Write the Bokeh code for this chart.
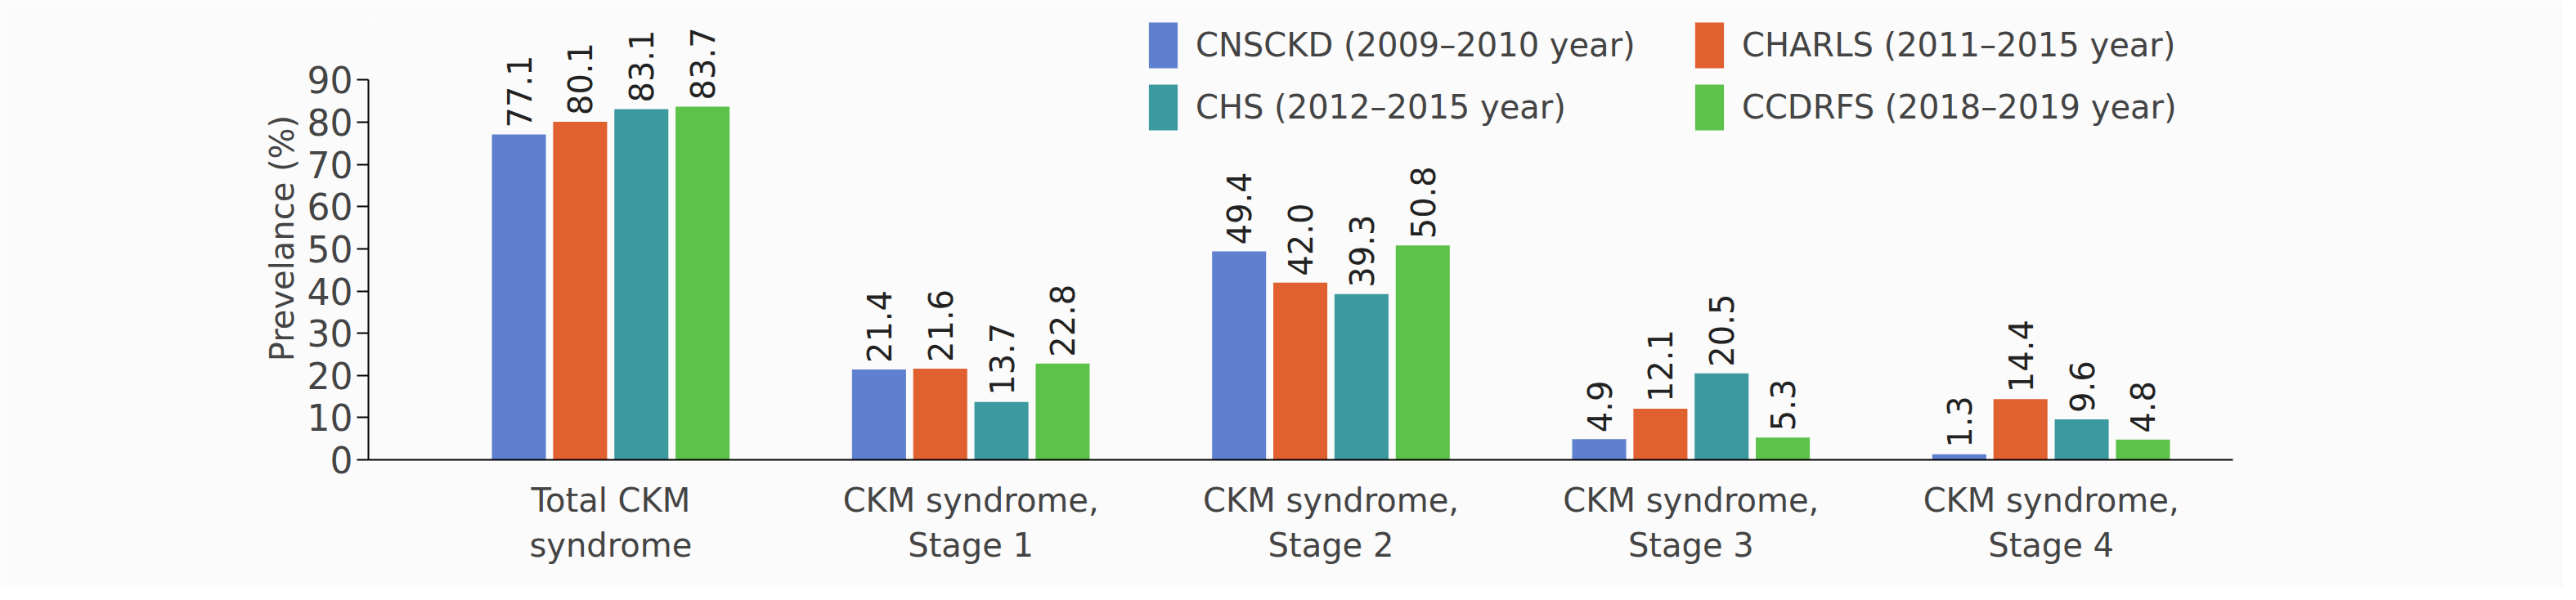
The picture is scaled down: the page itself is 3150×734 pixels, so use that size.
import numpy as np
from bokeh.plotting import figure
from bokeh.models import ColumnDataSource, FixedTicker, Legend, LegendItem
from bokeh.core.properties import value
from bokeh.embed import file_html
from bokeh.resources import INLINE

categories = ["Total CKM\nsyndrome", "CKM syndrome,\nStage 1", "CKM syndrome,\nStage 2",
              "CKM syndrome,\nStage 3", "CKM syndrome,\nStage 4"]
series = ["CNSCKD (2009\u20132010 year)", "CHARLS (2011\u20132015 year)",
          "CHS (2012\u20132015 year)", "CCDRFS (2018\u20132019 year)"]
cnsckd = [77.1, 21.4, 49.4, 4.9, 1.3]
charls = [80.1, 21.6, 42.0, 12.1, 14.4]
chs = [83.1, 13.7, 39.3, 20.5, 9.6]
ccdrfs = [83.7, 22.8, 50.8, 5.3, 4.8]
colors = ["#5f7fcf", "#e0612f", "#3c999f", "#5cc24a"]
yticks = [0, 10, 20, 30, 40, 50, 60, 70, 80, 90]

FONT = "DejaVu Sans"
p = figure(width=3134, height=718, output_backend="svg", toolbar_location=None,
           x_range=(-0.673, 4.505), y_range=(0, 105),
           min_border_left=450, min_border_right=404, min_border_top=20, min_border_bottom=156)
p.outline_line_color = None
p.grid.visible = False
p.background_fill_color = "#fbfbfb"
p.border_fill_color = "#fbfbfb"

step = 0.17
items = []
for k, (name, vals, col) in enumerate(zip(series, [cnsckd, charls, chs, ccdrfs], colors)):
    xs = [i + (k - 1.5) * step for i in range(len(categories))]
    src = ColumnDataSource(dict(x=xs, top=vals, lab=["%.1f" % v for v in vals]))
    r = p.vbar(x="x", top="top", width=0.15, bottom=0, source=src, fill_color=col, line_color=None)
    p.text(x="x", y="top", text="lab", source=src, angle=np.pi / 2, x_offset=0, y_offset=-8,
           text_align="left", text_baseline="middle", text_font=value(FONT),
           text_font_size="40px", text_color="#222222")
    items.append(LegendItem(label=name, renderers=[r]))

items = [items[0], items[2], items[1], items[3]]
leg = Legend(items=items, ncols=2, location="top_right",
             background_fill_alpha=0, border_line_color=None, label_text_font=FONT,
             label_text_font_size="40px", glyph_width=44, glyph_height=70, spacing=6,
             label_standoff=18, label_width=600, margin=0, padding=0)
p.add_layout(leg)

p.yaxis.ticker = FixedTicker(ticks=yticks)
p.yaxis.bounds = (0, 90)
p.yaxis.axis_label = "Prevelance (%)"
p.yaxis.axis_label_text_font = FONT
p.yaxis.axis_label_text_font_style = "normal"
p.yaxis.axis_label_text_font_size = "40px"
p.yaxis.major_label_text_font = FONT
p.yaxis.major_label_text_font_size = "44px"
p.yaxis.major_tick_out = 14
p.yaxis.major_tick_in = 0
p.yaxis.minor_tick_line_color = None
p.yaxis.axis_line_width = 2
p.yaxis.major_tick_line_width = 2

p.xaxis.ticker = FixedTicker(ticks=list(range(len(categories))))
p.xaxis.major_label_overrides = {i: c for i, c in enumerate(categories)}
p.xaxis.major_label_text_font = FONT
p.xaxis.major_label_text_font_size = "40px"
p.xaxis.major_tick_line_color = None
p.xaxis.minor_tick_line_color = None
p.xaxis.major_label_standoff = 20
p.xaxis.axis_line_width = 2

open("out.html", "w").write(file_html(p, INLINE))
